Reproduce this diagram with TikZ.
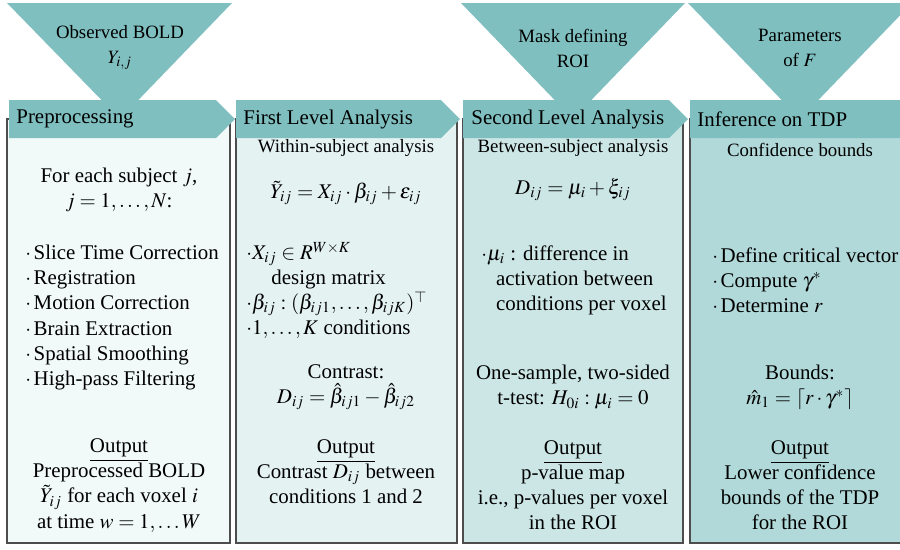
\documentclass[tikz,border=0pt]{standalone}
\usepackage{mathptmx}
\usepackage[no-math]{fontspec}
\setmainfont{Liberation Serif}
\usepackage{tikz}
\definecolor{stageteal}{HTML}{008080}
\definecolor{boxline}{HTML}{4D4D4D}
\newcommand{\bul}{$\cdot$\kern1.2pt}

\begin{document}
\begin{tikzpicture}[
  x=0.4785pt, y=-0.4785pt,
  font=\fontsize{10}{12}\selectfont,
  every node/.style={inner sep=0pt},
  stagebox/.style={draw=boxline, line width=0.9pt},
  inputtri/.style={fill=stageteal!50},
  stagehead/.style={fill=stageteal!50},
  headtext/.style={anchor=west},
  intext/.style={align=center, font=\fontsize{9}{12}\selectfont},
  subtext/.style={font=\fontsize{9}{11}\selectfont},
  bodytext/.style={align=center},
  listtext/.style={align=left, anchor=west},
]
\useasboundingbox (0,0) rectangle (900,549);
\clip (0,0) rectangle (900,549);

% column boxes
\path[stagebox, fill=stageteal!5]  (7,119)   rectangle (230,543);
\path[stagebox, fill=stageteal!10] (236,119) rectangle (457,543);
\path[stagebox, fill=stageteal!20] (463,119) rectangle (683,543);
\path[stagebox, fill=stageteal!30] (690,119) rectangle (920,543);

% inputs
\fill[inputtri] (7,3)   -- (232,3) -- (120,119) -- cycle;
\fill[inputtri] (461,3) -- (685,3) -- (573,119) -- cycle;
\fill[inputtri] (688,3) -- (912,3) -- (800,119) -- cycle;

% stage headers
\fill[stagehead] (9,100)   -- (216,100) -- (235,119) -- (216,138) -- (9,138)   -- cycle;
\fill[stagehead] (236,100) -- (441,100) -- (460,119) -- (441,138) -- (236,138) -- cycle;
\fill[stagehead] (463,100) -- (669,100) -- (688,119) -- (669,138) -- (463,138) -- cycle;
\fill[stagehead] (690,100) -- (910,100) -- (929,119) -- (910,138) -- (690,138) -- cycle;

\node[headtext] (prep)   at (16,119)  {Preprocessing};
\node[headtext] (first)  at (243,119) {First Level Analysis};
\node[headtext] (second) at (471,119) {Second Level Analysis};
\node[headtext] (infer)  at (697,119) {Inference on TDP};

\node[intext] (bold)   at (120,47.5) {Observed BOLD\\$Y_{i,j}$};
\node[intext] (mask)   at (573,48)   {Mask defining\\ROI};
\node[intext] (params) at (800,48)   {Parameters\\of $F$};

% preprocessing
\node[bodytext] (loop) at (119,189.5) {For each subject $j$,\\$j=1,\ldots,N$:};
\node[listtext] (steps) at (25,317.5) {%
  \bul Slice Time Correction\\
  \bul Registration\\
  \bul Motion Correction\\
  \bul Brain Extraction\\
  \bul Spatial Smoothing\\
  \bul High-pass Filtering};
\node[bodytext] (out1) at (119,485.5) {%
  \underline{Output}\\
  Preprocessed BOLD\\
  $\tilde{Y}_{ij}$ for each voxel $i$\\
  at time $w=1,\ldots W$};

% first level
\node[subtext] (within) at (346,148) {Within-subject analysis};
\node[bodytext] (glm) at (346,193) {$\tilde{Y}_{ij}=X_{ij}\cdot\beta_{ij}+\varepsilon_{ij}$};
\node[listtext] (design) at (246,290.5) {%
  $\cdot X_{ij}\in R^{W\times K}$\\
  \hspace*{12pt}design matrix\\
  $\cdot\beta_{ij}:(\beta_{ij1},\ldots,\beta_{ijK})^{\top}$\\
  $\cdot 1,\ldots,K$ conditions};
\node[bodytext] (contrast) at (346,387.5) {Contrast:\\$D_{ij}=\hat{\beta}_{ij1}-\hat{\beta}_{ij2}$};
\node[bodytext] (out2) at (346,472) {%
  \underline{Output}\\
  Contrast $D_{ij}$ between\\
  conditions 1 and 2};

% second level
\node[subtext] (between) at (573,148) {Between-subject analysis};
\node[bodytext] (rfx) at (573,190) {$D_{ij}=\mu_i+\xi_{ij}$};
\node[listtext] (mudef) at (481,280) {%
  $\cdot\mu_i$ : difference in\\
  \hspace*{7pt}activation between\\
  \hspace*{7pt}conditions per voxel};
\node[bodytext] (ttest) at (573,387.5) {One-sample, two-sided\\t-test: $H_{0i}:\mu_i=0$};
\node[bodytext] (out3) at (573,485.5) {%
  \underline{Output}\\
  p-value map\\
  i.e., p-values per voxel\\
  in the ROI};

% inference
\node[subtext] (conf) at (800,150) {Confidence bounds};
\node[listtext] (tdpsteps) at (712,280) {%
  \bul Define critical vector\\
  \bul Compute $\gamma^*$\\
  \bul Determine $r$};
\node[bodytext] (mhat) at (800,387.5) {Bounds:\\$\hat{m}_1=\lceil r\cdot\gamma^*\rceil$};
\node[bodytext] (out4) at (800,485.5) {%
  \underline{Output}\\
  Lower confidence\\
  bounds of the TDP\\
  for the ROI};

\end{tikzpicture}
\end{document}
